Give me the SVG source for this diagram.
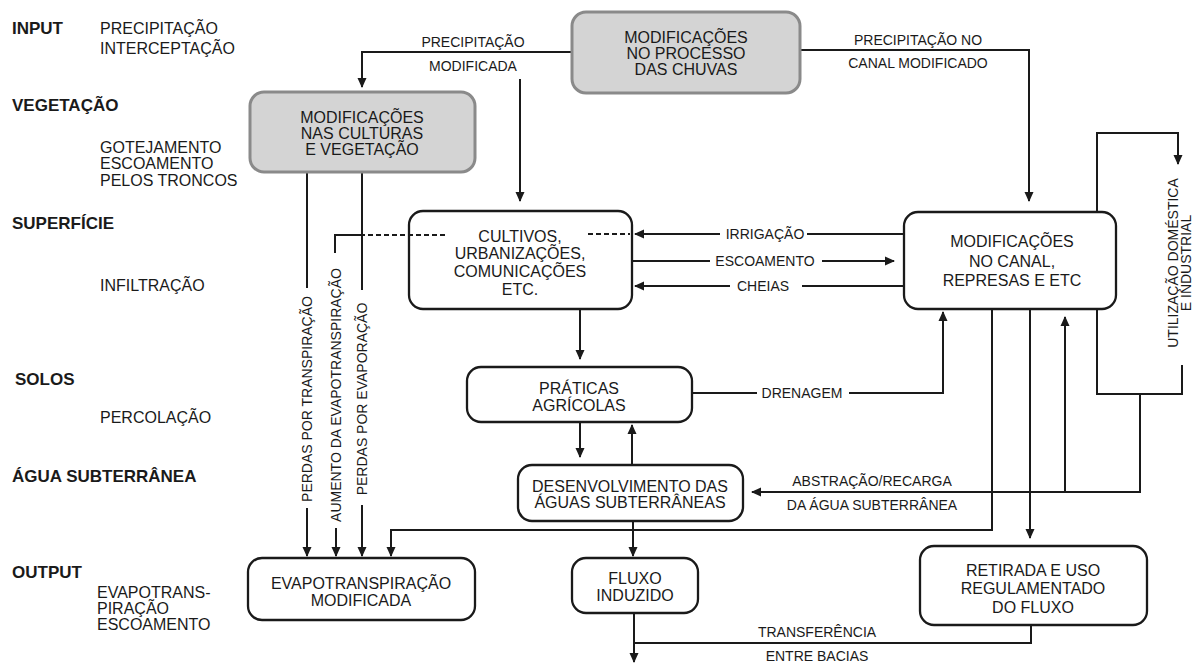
<svg xmlns="http://www.w3.org/2000/svg" width="1195" height="664" viewBox="0 0 1195 664">
<style>
.hd{font-family:"Liberation Sans",Arial,sans-serif;font-weight:bold;font-size:17px;fill:#1a1a1a}
.lb{font-family:"Liberation Sans",Arial,sans-serif;font-size:16px;fill:#1a1a1a}
.bx{font-family:"Liberation Sans",Arial,sans-serif;font-size:16px;fill:#1a1a1a;text-anchor:middle}
.cl{font-family:"Liberation Sans",Arial,sans-serif;font-size:14px;fill:#1a1a1a;text-anchor:middle}
.gray{fill:#d4d4d4;stroke:#8a8a8a;stroke-width:3}
.box{fill:#fff;stroke:#1a1a1a;stroke-width:2.3}
.ln{fill:none;stroke:#1a1a1a;stroke-width:2}
.arr{fill:none;stroke:#1a1a1a;stroke-width:2;marker-end:url(#ah)}
.dash{fill:none;stroke:#1a1a1a;stroke-width:2.2;stroke-dasharray:5 3}
</style>
<defs>
<marker id="ah" viewBox="0 0 10 10" refX="9" refY="5" markerWidth="10" markerHeight="10" markerUnits="userSpaceOnUse" orient="auto">
<path d="M0,0.5 L10,5 L0,9.5 z" fill="#1a1a1a"/>
</marker>
</defs>
<rect width="1195" height="664" fill="#fff"/>

<g id="left-labels">
<text class="hd" x="12" y="34">INPUT</text>
<text class="lb" x="100" y="34">PRECIPITAÇÃO</text>
<text class="lb" x="100" y="54">INTERCEPTAÇÃO</text>
<text class="hd" x="12" y="111">VEGETAÇÃO</text>
<text class="lb" x="100" y="153">GOTEJAMENTO</text>
<text class="lb" x="100" y="169">ESCOAMENTO</text>
<text class="lb" x="100" y="186">PELOS TRONCOS</text>
<text class="hd" x="12" y="229">SUPERFÍCIE</text>
<text class="lb" x="100" y="291">INFILTRAÇÃO</text>
<text class="hd" x="15" y="385">SOLOS</text>
<text class="lb" x="100" y="423">PERCOLAÇÃO</text>
<text class="hd" x="12" y="482">ÁGUA SUBTERRÂNEA</text>
<text class="hd" x="12" y="578">OUTPUT</text>
<text class="lb" x="97" y="598">EVAPOTRANS-</text>
<text class="lb" x="97" y="614">PIRAÇÃO</text>
<text class="lb" x="97" y="630">ESCOAMENTO</text>
</g>

<g id="connectors">
<!-- chuvas -> vegetacao -->
<path class="arr" d="M572,52 H362 V87"/>
<text class="cl" x="473" y="47">PRECIPITAÇÃO</text>
<text class="cl" x="473" y="71">MODIFICADA</text>
<!-- precipitacao modificada -> cultivos -->
<path class="arr" d="M520,79 V201"/>
<!-- chuvas -> canal -->
<path class="arr" d="M800,50 H1029 V201"/>
<text class="cl" x="918" y="45">PRECIPITAÇÃO NO</text>
<text class="cl" x="918" y="68">CANAL MODIFICADO</text>
<!-- vegetation vertical lines -->
<path class="ln" d="M307,172 V288"/>
<path class="arr" d="M307,508 V556"/>
<text class="cl" transform="translate(307,399) rotate(-90)" x="0" y="5">PERDAS POR TRANSPIRAÇÃO</text>
<path class="ln" d="M362,172 V290"/>
<path class="arr" d="M362,505 V556"/>
<text class="cl" transform="translate(362,399) rotate(-90)" x="0" y="5">PERDAS POR EVAPORAÇÃO</text>
<path class="ln" d="M335,253 V235 H360"/>
<path class="dash" d="M360,235 H447"/>
<path class="arr" d="M336,528 V556"/>
<text class="cl" transform="translate(336,395) rotate(-90)" x="0" y="5">AUMENTO DA EVAPOTRANSPIRAÇÃO</text>
<!-- right dashed / irrigacao -->
<path class="dash" d="M588,234 H630"/>
<path class="ln" d="M904,234 H807"/>
<path class="arr" d="M720,234 H635"/>
<text class="cl" x="765" y="239">IRRIGAÇÃO</text>
<!-- escoamento -->
<path class="ln" d="M632,261 H710"/>
<path class="arr" d="M822,261 H894"/>
<text class="cl" x="765" y="266">ESCOAMENTO</text>
<!-- cheias -->
<path class="ln" d="M904,286 H802"/>
<path class="arr" d="M730,286 H635"/>
<text class="cl" x="763" y="291">CHEIAS</text>
<!-- cultivos -> praticas -->
<path class="arr" d="M580,309 V359"/>
<!-- praticas <-> desenvolvimento -->
<path class="arr" d="M580,422 V457"/>
<path class="arr" d="M632,464 V425"/>
<!-- drenagem -->
<path class="ln" d="M692,393 H757"/>
<path class="arr" d="M849,393 H943 V312"/>
<text class="cl" x="802" y="398">DRENAGEM</text>
<!-- utilizacao domestica loop -->
<path class="arr" d="M1097,212 V133 H1178 V164"/>
<path class="ln" d="M1182,365 V394 H1097 V309"/>
<text class="cl" transform="translate(1172,263) rotate(-90)" x="0" y="6">UTILIZAÇÃO DOMÉSTICA</text>
<text class="cl" transform="translate(1172,263) rotate(-90)" x="0" y="19">E INDUSTRIAL</text>
<!-- abstracao / recarga -->
<path class="arr" d="M1140,394 V492 H752"/>
<path class="arr" d="M1065,492 V317"/>
<text class="cl" x="872" y="486">ABSTRAÇÃO/RECARGA</text>
<text class="cl" x="872" y="510">DA ÁGUA SUBTERRÂNEA</text>
<!-- canal -> evapotranspiracao -->
<path class="arr" d="M992,309 V530 H391 V556"/>
<!-- canal -> retirada -->
<path class="arr" d="M1030,309 V538"/>
<!-- desenvolvimento -> fluxo -->
<path class="arr" d="M633,521 V556"/>
<!-- fluxo -> out, retirada -> transferencia -->
<path class="arr" d="M634,613 V662"/>
<path class="ln" d="M634,643 H1031 V625"/>
<text class="cl" x="817" y="637">TRANSFERÊNCIA</text>
<text class="cl" x="817" y="661">ENTRE BACIAS</text>
</g>

<g id="node-chuvas">
<rect class="gray" x="572" y="12" width="228" height="81" rx="14"/>
<text class="bx" x="686" y="43">MODIFICAÇÕES</text>
<text class="bx" x="686" y="59">NO PROCESSO</text>
<text class="bx" x="686" y="75">DAS CHUVAS</text>
</g>
<g id="node-vegetacao">
<rect class="gray" x="250" y="92" width="225" height="80" rx="14"/>
<text class="bx" x="362" y="123">MODIFICAÇÕES</text>
<text class="bx" x="362" y="139">NAS CULTURAS</text>
<text class="bx" x="362" y="155">E VEGETAÇÃO</text>
</g>
<g id="node-cultivos">
<rect class="box" x="409" y="211" width="223" height="98" rx="14" fill-opacity="0"/>
<text class="bx" x="520" y="242">CULTIVOS,</text>
<text class="bx" x="520" y="259">URBANIZAÇÕES,</text>
<text class="bx" x="520" y="277">COMUNICAÇÕES</text>
<text class="bx" x="520" y="295">ETC.</text>
</g>
<g id="node-canal">
<rect class="box" x="904" y="212" width="212" height="97" rx="14"/>
<text class="bx" x="1012" y="247">MODIFICAÇÕES</text>
<text class="bx" x="1012" y="267">NO CANAL,</text>
<text class="bx" x="1012" y="286">REPRESAS E ETC</text>
</g>
<g id="node-praticas">
<rect class="box" x="467" y="367" width="225" height="55" rx="14"/>
<text class="bx" x="579" y="394">PRÁTICAS</text>
<text class="bx" x="579" y="411">AGRÍCOLAS</text>
</g>
<g id="node-desenvolvimento">
<rect class="box" x="518" y="465" width="225" height="56" rx="14"/>
<text class="bx" x="630" y="492">DESENVOLVIMENTO DAS</text>
<text class="bx" x="630" y="508">ÁGUAS SUBTERRÂNEAS</text>
</g>
<g id="node-evapotranspiracao">
<rect class="box" x="248" y="558" width="227" height="62" rx="14"/>
<text class="bx" x="361" y="589">EVAPOTRANSPIRAÇÃO</text>
<text class="bx" x="361" y="606">MODIFICADA</text>
</g>
<g id="node-fluxo">
<rect class="box" x="572" y="558" width="126" height="55" rx="14"/>
<text class="bx" x="635" y="584">FLUXO</text>
<text class="bx" x="635" y="601">INDUZIDO</text>
</g>
<g id="node-retirada">
<rect class="box" x="920" y="546" width="227" height="79" rx="14"/>
<text class="bx" x="1033" y="576">RETIRADA E USO</text>
<text class="bx" x="1033" y="594">REGULAMENTADO</text>
<text class="bx" x="1033" y="613">DO FLUXO</text>
</g>
</svg>
